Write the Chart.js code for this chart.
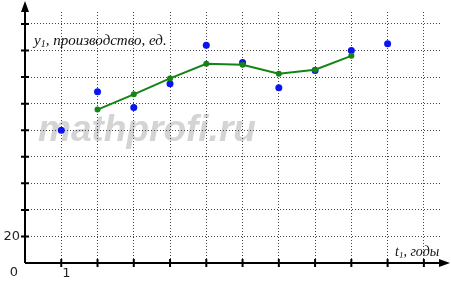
<!DOCTYPE html>
<html>
<head>
<meta charset="utf-8">
<script src="https://cdn.jsdelivr.net/npm/chart.js@4/dist/chart.umd.min.js"></script>
<style>
  html, body { margin: 0; padding: 0; background: #fff; }
  #wrap { width: 451px; height: 281px; }
</style>
</head>
<body>
<div id="wrap"><canvas id="chart-trend" width="451" height="281"></canvas></div>
<script>
/* production by year — raw points + 3-year moving average */

const YEARS      = [1, 2, 3, 4, 5, 6, 7, 8, 9, 10];
const PRODUCTION = [100, 129, 117, 135, 164, 151, 132, 145, 160, 165];
const MA_YEARS   = [2, 3, 4, 5, 6, 7, 8, 9];
const MA_VALUES  = [115.5, 127, 139, 150, 149.3, 142.5, 145.5, 156];
const X_TICKS    = [1, 2, 3, 4, 5, 6, 7, 8, 9, 10, 11];
const Y_TICKS    = [20, 40, 60, 80, 100, 120, 140, 160, 180];

const AXIS_COLOR = '#000';
const GRID_COLOR = '#444';

const axesPlugin = {
  id: 'axes',
  beforeDraw(chart) {
    const { ctx } = chart;
    ctx.save();
    ctx.fillStyle = '#d4d4d4';
    ctx.font = 'italic bold 37px "Liberation Sans", Arial, sans-serif';
    ctx.textBaseline = 'alphabetic';
    ctx.fillText('mathprofi.ru', 38, 141);
    ctx.restore();
  },
  afterDraw(chart) {
    const { ctx, scales: { x, y } } = chart;
    const x0 = x.getPixelForValue(0), y0 = y.getPixelForValue(0);
    ctx.save();
    ctx.strokeStyle = AXIS_COLOR;
    ctx.fillStyle = AXIS_COLOR;
    ctx.lineWidth = 2;

    // axis lines
    ctx.beginPath();
    ctx.moveTo(x0, y0); ctx.lineTo(x0, 8);
    ctx.moveTo(x0, y0); ctx.lineTo(443, y0);
    ctx.stroke();

    // arrow heads
    ctx.beginPath();
    ctx.moveTo(x0, 1); ctx.lineTo(x0 - 4, 12); ctx.lineTo(x0 + 4, 12); ctx.closePath();
    ctx.moveTo(450, y0); ctx.lineTo(439, y0 - 4); ctx.lineTo(439, y0 + 4); ctx.closePath();
    ctx.fill();

    // tick marks
    ctx.beginPath();
    Y_TICKS.forEach(v => { const p = y.getPixelForValue(v); ctx.moveTo(x0 - 4, p); ctx.lineTo(x0 + 4, p); });
    X_TICKS.forEach(v => { const p = x.getPixelForValue(v); ctx.moveTo(p, y0 - 4); ctx.lineTo(p, y0 + 4); });
    ctx.stroke();

    // numbers
    ctx.font = '13px "DejaVu Sans", sans-serif';
    ctx.fillStyle = '#222';
    ctx.textBaseline = 'middle';
    ctx.textAlign = 'right';
    ctx.fillText('20', x0 - 5, y.getPixelForValue(20));
    ctx.textAlign = 'center';
    ctx.fillText('0', 14, y0 + 10);
    ctx.fillText('1', x.getPixelForValue(1) + 5, y0 + 11);

    // axis titles
    ctx.textAlign = 'left';
    ctx.textBaseline = 'alphabetic';
    ctx.fillStyle = '#111';
    drawSubLabel(ctx, 'y', '1', ', производство, ед.', 34, 45, 15);
    drawSubLabel(ctx, 't', '1', ', годы', 395, 256, 14);
    ctx.restore();
  },
};

function drawSubLabel(ctx, main, sub, rest, px, py, size) {
  const f = s => `italic ${s}px "Liberation Serif", "DejaVu Serif", serif`;
  ctx.font = f(size);
  ctx.fillText(main, px, py);
  let cx = px + ctx.measureText(main).width;
  ctx.font = f(Math.round(size * 0.65));
  ctx.fillText(sub, cx, py + 2);
  cx += ctx.measureText(sub).width;
  ctx.font = f(size);
  ctx.fillText(rest, cx, py);
}

new Chart(document.getElementById('chart-trend'), {
  type: 'scatter',
  data: {
    datasets: [
      {
        label: 'moving average',
        data: MA_YEARS.map((t, i) => ({ x: t, y: MA_VALUES[i] })),
        showLine: true,
        borderColor: '#148414',
        backgroundColor: '#148414',
        borderWidth: 2,
        pointRadius: 3,
        pointBorderWidth: 0,
      },
      {
        label: 'production',
        data: YEARS.map((t, i) => ({ x: t, y: PRODUCTION[i] })),
        backgroundColor: '#0a14ee',
        borderColor: '#0a14ee',
        pointRadius: 3.5,
        pointBorderWidth: 0,
      },
    ],
  },
  options: {
    responsive: false,
    animation: false,
    layout: { padding: { left: 25, right: 9, top: 12, bottom: 18 } },
    plugins: { legend: { display: false }, tooltip: { enabled: false } },
    scales: {
      x: {
        type: 'linear', min: 0, max: 11.5,
        afterBuildTicks: s => { s.ticks = X_TICKS.map(v => ({ value: v })); },
        ticks: { display: false },
        border: { display: false, dash: [1, 2] },
        grid: { color: GRID_COLOR, lineWidth: 1, drawTicks: false },
      },
      y: {
        type: 'linear', min: 0, max: 189,
        afterBuildTicks: s => { s.ticks = Y_TICKS.map(v => ({ value: v })); },
        ticks: { display: false },
        border: { display: false, dash: [1, 2] },
        grid: { color: GRID_COLOR, lineWidth: 1, drawTicks: false },
      },
    },
  },
  plugins: [axesPlugin],
});
</script>
</body>
</html>
